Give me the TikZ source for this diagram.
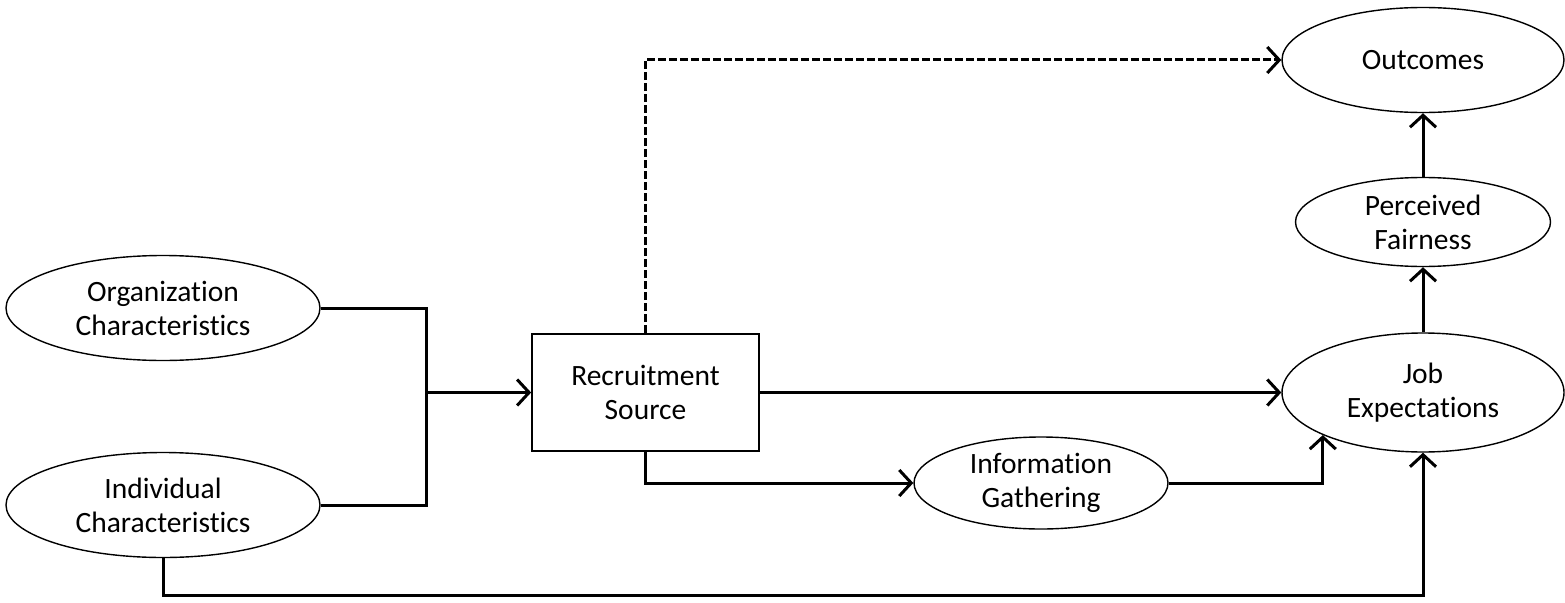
\documentclass[tikz,border=0pt]{standalone}
\usepackage{fontspec}
\setmainfont{Carlito}[Ligatures=NoCommon]
\usetikzlibrary{shapes.geometric,arrows.meta}
\begin{document}
\begin{tikzpicture}[x=1pt,y=-1pt,
  every node/.style={font=\fontsize{29.5}{34}\selectfont, align=center, inner sep=0pt},
  oval/.style={ellipse, draw, line width=1.4pt},
  boxnode/.style={rectangle, draw, line width=1.7pt},
  conn/.style={line width=3pt},
  arr/.style={conn, -{Straight Barb[length=12pt,width=26pt,line width=3pt]}}
]
\useasboundingbox (0,0) rectangle (1565,602);
\node[oval, minimum width=314pt, minimum height=105pt] (org) at (163,308) {Organization\\Characteristics};
\node[oval, minimum width=314pt, minimum height=105pt] (ind) at (163,505) {Individual\\Characteristics};
\node[boxnode, minimum width=227pt, minimum height=117pt] (rs) at (645.5,392.5) {Recruitment\\Source};
\node[oval, minimum width=254pt, minimum height=92pt] (ig) at (1041,483) {Information\\Gathering};
\node[oval, minimum width=282pt, minimum height=119pt] (je) at (1423,392.5) {Job\\Expectations};
\node[oval, minimum width=255pt, minimum height=89pt] (pf) at (1423,222) {Perceived\\Fairness};
\node[oval, minimum width=282pt, minimum height=105pt] (out) at (1423,60) {Outcomes};

\coordinate (jn) at (426,392.5);
\coordinate (cb) at (163,595);

\draw[conn] (org.east) -| (jn);
\draw[conn] (ind.east) -| (jn);
\draw[arr] (jn) -- (rs.west);
\draw[arr, dash pattern=on 8pt off 3pt] (rs.north) |- (out.west);
\draw[arr] (rs.east) -- (je.west);
\draw[arr] (rs.south) |- (ig.west);
\draw[arr] (ig.east) -| (je.south west);
\draw[arr] (ind.south) -- (cb) -| (je.south);
\draw[arr] (je.north) -- (pf.south);
\draw[arr] (pf.north) -- (out.south);
\end{tikzpicture}
\end{document}
